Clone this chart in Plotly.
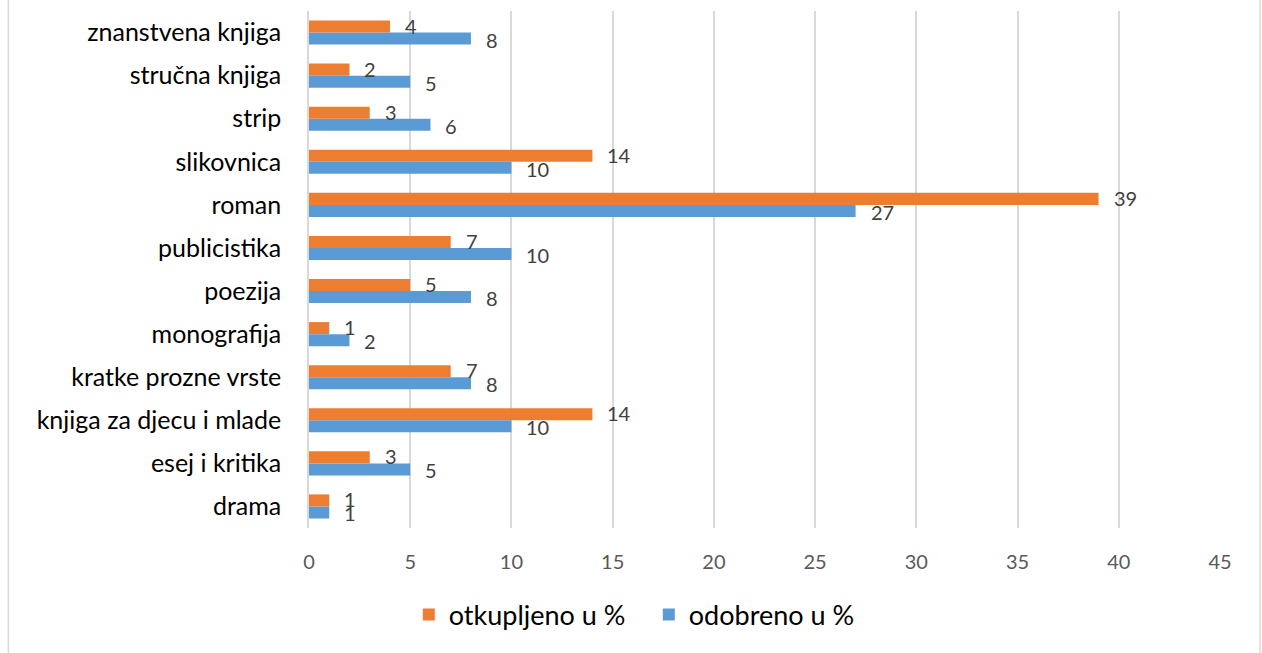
import plotly.graph_objects as go

categories = ["drama", "esej i kritika", "knjiga za djecu i mlade", "kratke prozne vrste",
              "monografija", "poezija", "publicistika", "roman", "slikovnica", "strip",
              "stručna knjiga", "znanstvena knjiga"]
otkupljeno = [1, 3, 14, 7, 1, 5, 7, 39, 14, 3, 2, 4]
odobreno = [1, 5, 10, 8, 2, 8, 10, 27, 10, 6, 5, 8]
x_ticks = [0, 5, 10, 15, 20, 25, 30, 35, 40, 45]

ORANGE = "#ED7D31"
BLUE = "#5B9BD5"
FONT = "Lato"

fig = go.Figure()
fig.add_trace(go.Bar(y=categories, x=odobreno, orientation="h", name="odobreno u %",
                     marker=dict(color=BLUE, line=dict(width=0))))
fig.add_trace(go.Bar(y=categories, x=otkupljeno, orientation="h", name="otkupljeno u %",
                     marker=dict(color=ORANGE, line=dict(width=0))))

annotations = []
for c, v in zip(categories, otkupljeno):
    annotations.append(dict(x=v, y=c, xref="x", yref="y", text=str(v), showarrow=False,
                            xanchor="left", yanchor="middle", xshift=13, yshift=7,
                            font=dict(family=FONT, size=20, color="#404040")))
for c, v in zip(categories, odobreno):
    annotations.append(dict(x=v, y=c, xref="x", yref="y", text=str(v), showarrow=False,
                            xanchor="left", yanchor="middle", xshift=13, yshift=-7,
                            font=dict(family=FONT, size=20, color="#404040")))

fig.update_layout(
    width=1262, height=653,
    margin=dict(l=309, r=42, t=11, b=125),
    paper_bgcolor="white", plot_bgcolor="white",
    barmode="group", bargap=0.44, bargroupgap=0,
    font=dict(family=FONT),
    annotations=annotations,
    legend=dict(orientation="h", x=0.373, xanchor="center", y=-0.168, yanchor="middle",
                traceorder="reversed", font=dict(family=FONT, size=27, color="#000000"),
                entrywidth=195, entrywidthmode="pixels", itemwidth=30),
    xaxis=dict(range=[0, 45], tickvals=x_ticks, showgrid=True, gridcolor="#D9D9D9",
               gridwidth=1.5, zeroline=False, showline=False,
               tickfont=dict(family=FONT, size=20, color="#595959"), ticks="",
               ticklabelstandoff=20),
    yaxis=dict(showline=True, linecolor="#D9D9D9", linewidth=1.5, ticks="",
               tickfont=dict(family=FONT, size=25, color="#000000"), showgrid=False,
               ticklabelstandoff=21),
    shapes=[dict(type="rect", xref="paper", yref="paper", x0=-0.330, x1=1.044,
                 y0=-0.27, y1=1.04, line=dict(color="#D9D9D9", width=1.5),
                 fillcolor="rgba(0,0,0,0)", layer="below")],
)

fig.write_html("out.html", config={"displayModeBar": False},
               post_script="document.body.style.margin='0';document.body.style.overflow='hidden';")
